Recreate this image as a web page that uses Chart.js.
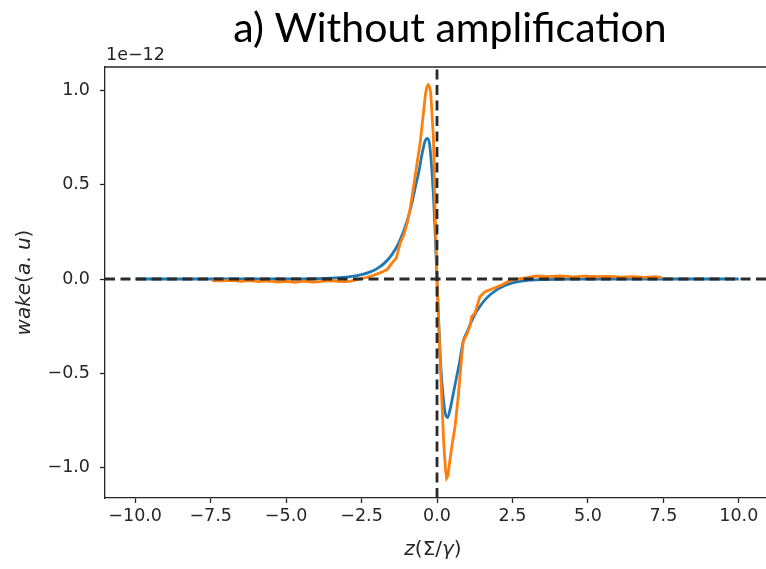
<!DOCTYPE html>
<html><head><meta charset="utf-8">
<script src="https://cdn.jsdelivr.net/npm/chart.js@4/dist/chart.umd.min.js"></script>
<style>html,body{margin:0;padding:0;background:#fff;overflow:hidden;}#wrap{width:772px;height:569px;}</style>
</head><body><div id="wrap"><canvas id="c" width="772" height="569"></canvas></div>
<script>
const titleText = "a) Without amplification";
const offsetText = "1e\u221212";
const xTicks = [-10, -7.5, -5, -2.5, 0, 2.5, 5, 7.5, 10];
const yTicks = [-1, -0.5, 0, 0.5, 1];
const xRange = [-11, 11];
const yRange = [-1.162, 1.125];

const zBlue = [-10,-9,-8,-7,-6,-5,-4.5,-4,-3.5,-3,-2.75,-2.5,-2.25,-2,-1.75,-1.5,-1.25,-1,-0.85,-0.7,-0.6,-0.5,-0.4,-0.32,-0.25,-0.2,-0.12,-0.07,0,0.07,0.12,0.2,0.27,0.35,0.45,0.55,0.65,0.75,0.87,1.0,1.2,1.4,1.65,2.0,2.25,2.5,2.75,3,3.5,4,4.5,5,6,7,8,9,10];
const wakeBlue = [0,0,0,0,0,0.0003,0.0008,0.0017,0.004,0.0096,0.015,0.023,0.035,0.054,0.083,0.128,0.197,0.303,0.39,0.50,0.57,0.66,0.73,0.746,0.72,0.64,0.45,0.28,0,-0.28,-0.45,-0.62,-0.71,-0.735,-0.68,-0.6,-0.52,-0.44,-0.33,-0.28,-0.205,-0.15,-0.1,-0.055,-0.034,-0.02,-0.012,-0.007,-0.003,-0.0015,-0.0007,-0.0003,0,0,0,0,0];

const zOrange = [-7.45,-7.1,-6.8,-6.5,-6.2,-5.9,-5.6,-5.3,-5.0,-4.7,-4.4,-4.1,-3.8,-3.5,-3.2,-2.9,-2.6,-2.35,-2.1,-1.85,-1.65,-1.5,-1.35,-1.22,-1.1,-1.0,-0.89,-0.73,-0.56,-0.45,-0.38,-0.33,-0.29,-0.25,-0.21,-0.12,-0.07,0,0.07,0.15,0.22,0.28,0.32,0.36,0.42,0.5,0.6,0.7,0.82,0.87,1.0,1.09,1.15,1.26,1.42,1.59,1.86,2.14,2.47,2.86,3.3,3.7,4.07,4.5,4.9,5.3,5.7,6.1,6.5,6.9,7.2,7.45];
const wakeOrange = [-0.008,-0.01,-0.007,-0.012,-0.009,-0.014,-0.01,-0.016,-0.012,-0.018,-0.011,-0.017,-0.013,-0.008,-0.014,-0.012,-0.002,0.008,0.02,0.035,0.05,0.083,0.11,0.19,0.235,0.29,0.37,0.54,0.72,0.88,0.985,1.022,1.03,1.02,0.99,0.755,0.40,0.0,-0.3,-0.6,-0.86,-1.01,-1.056,-1.045,-0.97,-0.88,-0.78,-0.63,-0.41,-0.33,-0.29,-0.25,-0.2,-0.18,-0.094,-0.067,-0.05,-0.032,-0.005,0.004,0.016,0.012,0.016,0.011,0.015,0.012,0.014,0.01,0.013,0.009,0.012,0.008];

const pts = (xs, ys) => xs.map((x, i) => ({x: x, y: ys[i]}));
const INK = '#262626';
const FS = 17.5;
const LFS = 20;
const TICKFONT = {family: 'DejaVu Sans', size: FS};

function drawSegments(ctx, segs, x, y, size) {
  let total = 0;
  const widths = segs.map(s => { ctx.font = s[1] + ' ' + size + 'px "DejaVu Sans"'; const w = ctx.measureText(s[0]).width; total += w; return w; });
  let cx = x - total / 2;
  segs.forEach((s, i) => { ctx.font = s[1] + ' ' + size + 'px "DejaVu Sans"'; ctx.fillText(s[0], cx, y); cx += widths[i]; });
}

const decor = {
  id: 'decor',
  afterDraw(chart) {
    const ctx = chart.ctx, a = chart.chartArea;
    ctx.save();
    ctx.strokeStyle = INK; ctx.lineWidth = 1.3;
    ctx.beginPath(); ctx.moveTo(a.left, a.top); ctx.lineTo(a.right, a.top); ctx.lineTo(a.right, a.bottom); ctx.stroke();
    ctx.fillStyle = '#000';
    ctx.textAlign = 'center'; ctx.textBaseline = 'alphabetic';
    ctx.font = '41px Lato';
    ctx.fillText(titleText, 450, 42);
    ctx.fillStyle = INK;
    ctx.textAlign = 'left';
    ctx.font = FS + 'px "DejaVu Sans"';
    ctx.fillText(offsetText, a.left + 1, 60);
    drawSegments(ctx, [['z','italic'],['(\u03A3/','normal'],['\u03B3','italic'],[')','normal']], (a.left + a.right) / 2 - 4, 555, LFS);
    ctx.translate(30, (a.top + a.bottom) / 2);
    ctx.rotate(-Math.PI / 2);
    drawSegments(ctx, [['wake','italic'],['(','normal'],['a','italic'],['. ','normal'],['u','italic'],[')','normal']], 0, 0, LFS);
    ctx.restore();
  }
};

new Chart(document.getElementById('c'), {
  type: 'line',
  data: {
    datasets: [
      {data: pts(zBlue, wakeBlue), borderColor: '#1f77b4', borderWidth: 2.8, pointRadius: 0, cubicInterpolationMode: 'monotone', order: 3},
      {data: pts(zOrange, wakeOrange), borderColor: '#ff7f0e', borderWidth: 2.8, pointRadius: 0, tension: 0, order: 2},
      {data: pts(xRange, [0, 0]), borderColor: '#2a2a2a', borderWidth: 2.8, borderDash: [10, 5.5], pointRadius: 0, order: 1},
      {data: pts([0, 0], yRange), borderColor: '#2a2a2a', borderWidth: 2.8, borderDash: [10, 5.5], pointRadius: 0, order: 0}
    ]
  },
  options: {
    responsive: false, animation: false,
    layout: {padding: {top: 67, right: 3, left: 0, bottom: 0}},
    plugins: {legend: {display: false}, tooltip: {enabled: false}, title: {display: false}},
    scales: {
      x: {
        type: 'linear', min: xRange[0], max: xRange[1],
        afterBuildTicks: s => { s.ticks = xTicks.map(v => ({value: v})); },
        afterFit: s => { s.height = 71; },
        ticks: {color: INK, font: TICKFONT, padding: 3, maxRotation: 0, autoSkip: false,
          callback: v => (v < 0 ? '\u2212' : '') + Math.abs(v).toFixed(1)},
        grid: {drawOnChartArea: false, tickLength: 5, tickColor: INK, tickWidth: 1.3},
        border: {display: true, color: INK, width: 1.3}
      },
      y: {
        type: 'linear', min: yRange[0], max: yRange[1],
        afterBuildTicks: s => { s.ticks = yTicks.map(v => ({value: v})); },
        afterFit: s => { s.width = 105; },
        ticks: {color: INK, font: TICKFONT, padding: 10, autoSkip: false,
          callback: v => (v < 0 ? '\u2212' : '') + Math.abs(v).toFixed(1)},
        grid: {drawOnChartArea: false, tickLength: 5, tickColor: INK, tickWidth: 1.3},
        border: {display: true, color: INK, width: 1.3}
      }
    }
  },
  plugins: [decor]
});
</script></body></html>
